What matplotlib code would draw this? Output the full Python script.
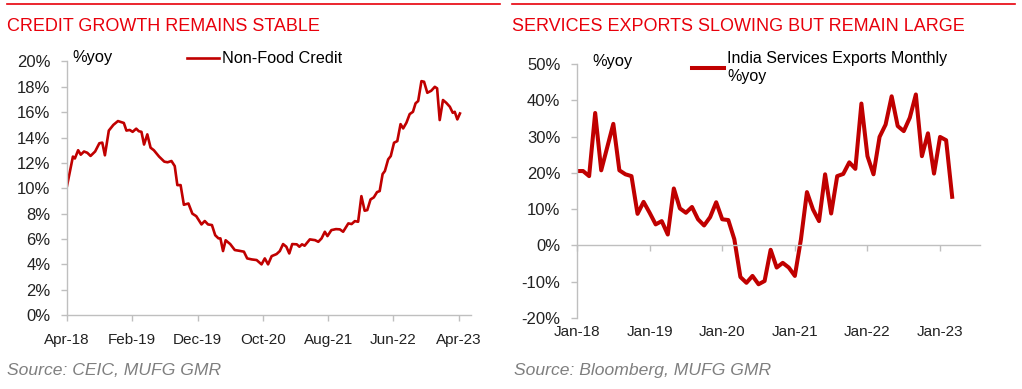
import matplotlib
matplotlib.use("Agg")
import matplotlib.pyplot as plt

plt.rcParams['font.family'] = ['Liberation Sans', 'DejaVu Sans']
plt.rcParams['font.size'] = 11

RED = "#C00000"
TITLE_RED = "#E8000B"
GREY = "#BFBFBF"

# Non-food credit, %yoy  (x = months since Apr-18)
credit_months = [0.0, 0.9, 1.2, 1.7, 2.1, 2.6, 3.1, 3.6, 4.3, 4.95, 5.4, 5.8, 6.4, 7.1, 7.8,
                 8.4, 8.7, 9.1, 9.6, 10.05, 10.6, 11.0, 11.4, 11.8, 12.3, 12.8, 13.3, 14.1,
                 14.9, 15.4, 16.0, 16.5, 16.9, 17.4, 17.9, 18.6, 19.2, 19.8, 20.6, 21.1,
                 21.6, 22.2, 22.7, 23.2, 23.5, 23.9, 24.3, 25.0, 25.7, 26.4, 27.1, 27.6,
                 28.3, 29.05, 29.8, 30.3, 30.8, 31.35, 32.1, 32.6, 33.1, 33.6, 34.05, 34.5,
                 35.2, 35.6, 36.0, 36.4, 37.2, 38.0, 38.5, 39.0, 39.5, 39.9, 40.5, 41.2,
                 41.8, 42.3, 43.1, 43.6, 44.1, 44.6, 45.1, 45.6, 46.0, 46.5, 47.0, 47.5,
                 47.9, 48.35, 48.7, 49.2, 49.6, 50.1, 50.6, 51.1, 51.5, 52.0, 52.5, 53.0,
                 53.4, 53.8, 54.3, 54.7, 55.2, 55.8, 56.35, 56.7, 57.1, 57.6, 58.1, 58.65,
                 59.1, 59.4, 59.8, 60.2]
credit_yoy = [10.2, 12.5, 12.35, 13.0, 12.65, 12.9, 12.8, 12.55, 12.9, 13.55, 13.6, 12.6,
              14.55, 15.0, 15.3, 15.2, 15.15, 14.55, 14.6, 14.45, 14.7, 14.5, 14.45, 13.45,
              14.25, 13.2, 13.0, 12.5, 12.1, 12.05, 12.15, 11.75, 10.25, 10.25, 8.7, 8.8,
              8.0, 7.8, 7.15, 7.42, 7.15, 7.1, 6.3, 6.05, 6.05, 5.05, 5.9, 5.6, 5.13, 5.07,
              5.0, 4.47, 4.39, 4.34, 4.0, 4.47, 4.0, 4.65, 4.81, 5.05, 5.6, 5.39, 4.86, 5.6,
              5.58, 5.39, 5.58, 5.47, 5.97, 5.91, 5.78, 6.05, 6.57, 6.23, 6.7, 6.78, 6.76,
              6.57, 7.23, 7.18, 7.41, 7.36, 9.38, 8.23, 8.28, 9.12, 9.28, 9.7, 9.78, 11.12,
              11.36, 12.28, 12.54, 13.59, 13.72, 15.06, 14.72, 15.17, 15.85, 16.03, 16.7,
              16.88, 18.45, 18.4, 17.53, 17.69, 18.0, 17.88, 15.38, 16.96, 16.74, 16.43,
              15.95, 16.03, 15.43, 15.9]
credit_ticks = [0, 10, 20, 30, 40, 50, 60]
credit_labels = ["Apr-18", "Feb-19", "Dec-19", "Oct-20", "Aug-21", "Jun-22", "Apr-23"]

# India services exports, monthly %yoy, Jan-18 .. Mar-23
services_yoy = [20.5, 20.5, 19.1, 36.5, 20.7, 27.1, 33.5, 20.7, 19.6, 19.1, 8.7, 12.0,
                9.0, 5.8, 6.7, 3.0, 15.7, 10.2, 9.0, 10.6, 7.2, 5.5, 7.8, 11.9,
                7.2, 7.0, 1.7, -8.7, -10.3, -8.4, -10.7, -9.8, -1.2, -6.1, -4.8, -6.1,
                -8.4, 1.6, 14.7, 9.9, 6.7, 19.6, 8.8, 19.1, 19.7, 22.9, 21.1, 39.1,
                24.6, 19.6, 29.9, 33.3, 41.1, 32.9, 31.5, 35.2, 41.6, 24.6, 30.9, 19.8,
                29.9, 29.0, 13.4]
services_months = list(range(len(services_yoy)))
services_ticks = [0, 12, 24, 36, 48, 60]
services_labels = ["Jan-18", "Jan-19", "Jan-20", "Jan-21", "Jan-22", "Jan-23"]

fig = plt.figure(figsize=(10.22, 3.89), dpi=100)

# headers: red rule + red title
for x0, x1, title in [(0.007, 0.489, "CREDIT GROWTH REMAINS STABLE"),
                      (0.501, 0.993, "SERVICES EXPORTS SLOWING BUT REMAIN LARGE")]:
    fig.add_artist(plt.Line2D([x0, x1], [0.989, 0.989], color=TITLE_RED, lw=1.2))
    fig.text(x0, 0.933, title, color=TITLE_RED, fontsize=13, va="center", ha="left")

fig.text(0.007, 0.048, "Source: CEIC, MUFG GMR", color="#7F7F7F", fontsize=12.6,
         style="italic", va="center")
fig.text(0.503, 0.048, "Source: Bloomberg, MUFG GMR", color="#7F7F7F", fontsize=12.6,
         style="italic", va="center")


def style_axes(ax):
    for s in ["top", "right"]:
        ax.spines[s].set_visible(False)
    for s in ["left", "bottom"]:
        ax.spines[s].set_color(GREY)
        ax.spines[s].set_linewidth(1.0)
    ax.tick_params(colors=GREY, labelcolor="#222222", length=4, width=1.0, pad=9,
                   labelsize=11)
    ax.tick_params(axis="y", labelsize=12, pad=8)


# left chart
ax1 = fig.add_axes([0.0656, 0.190, 0.3953, 0.652])
ax1.plot(credit_months, credit_yoy, color=RED, lw=1.9, label="Non-Food Credit")
ax1.set_xlim(0, 61.9)
ax1.set_ylim(0, 20)
ax1.set_yticks(range(0, 21, 2))
ax1.set_yticklabels([f"{v}%" for v in range(0, 21, 2)])
ax1.set_xticks(credit_ticks)
ax1.set_xticklabels(credit_labels)
style_axes(ax1)
ax1.text(0.012, 1.015, "%yoy", transform=ax1.transAxes, fontsize=11.8, va="center")
ax1.legend(loc="upper left", bbox_to_anchor=(0.28, 1.065), frameon=False, fontsize=11.7,
           handlelength=2.0, handletextpad=0.2, borderaxespad=0)

# right chart
ax2 = fig.add_axes([0.5646, 0.1825, 0.3943, 0.653])
ax2.plot(services_months, services_yoy, color=RED, lw=2.9,
         label="India Services Exports Monthly\n%yoy")
ax2.set_xlim(0, 66.6)
ax2.set_ylim(-20, 50)
ax2.set_yticks(range(-20, 51, 10))
ax2.set_yticklabels([f"{v}%" for v in range(-20, 51, 10)])
style_axes(ax2)
ax2.spines["bottom"].set_position(("data", 0))
ax2.set_xticks(services_ticks)
ax2.set_xticklabels([])
sec = ax2.secondary_xaxis("bottom")
sec.spines["bottom"].set_visible(False)
sec.set_xticks(services_ticks)
sec.set_xticklabels(services_labels)
sec.tick_params(length=0, pad=5, labelsize=11, labelcolor="#222222")
ax2.text(0.037, 1.01, "%yoy", transform=ax2.transAxes, fontsize=11.8, va="center")
ax2.legend(loc="upper left", bbox_to_anchor=(0.27, 1.075), frameon=False, fontsize=11.5,
           handlelength=2.0, handletextpad=0.2, borderaxespad=0)

fig.savefig("out.png", dpi=100)
